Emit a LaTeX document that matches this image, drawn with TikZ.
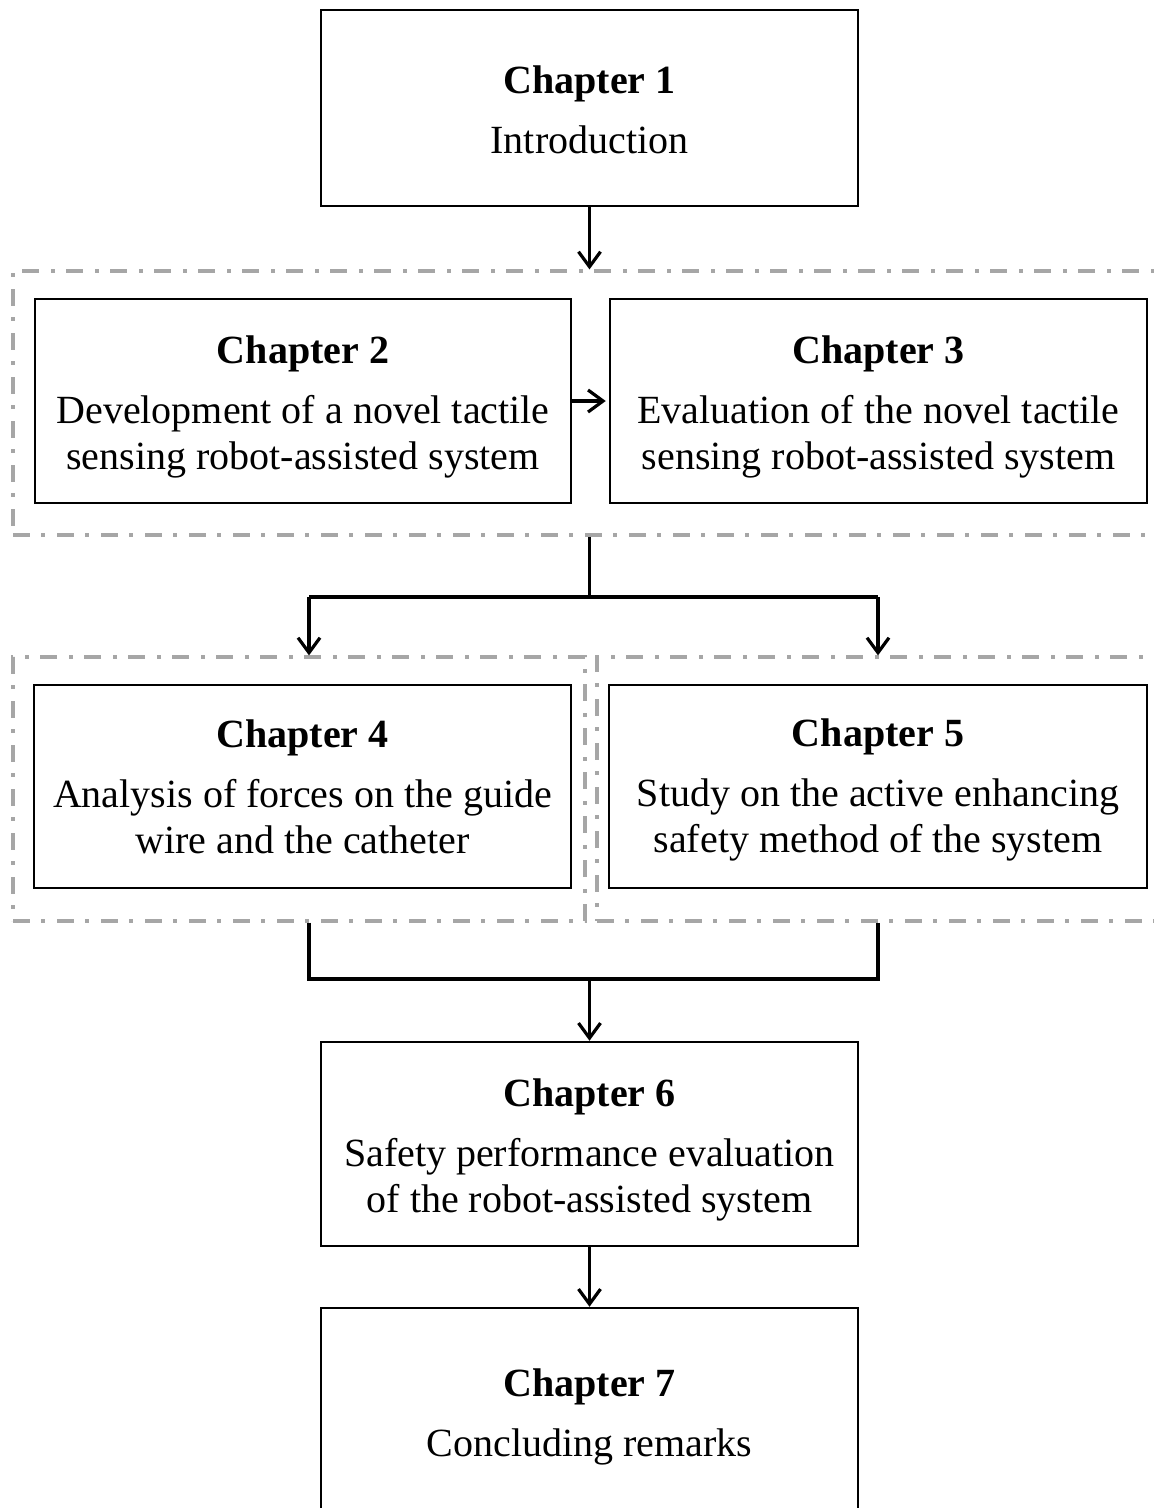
\documentclass[tikz,border=0pt]{standalone}
\usepackage{fontspec}
\setmainfont{Liberation Serif}
\usetikzlibrary{arrows.meta}
\definecolor{grpgray}{HTML}{A6A6A6}
\newcommand\chtop[1]{\rule{0pt}{#1pt}}
\begin{document}
\begin{tikzpicture}[x=1pt,y=-1pt,
  chap/.style={draw=black, line width=2.5pt, inner sep=0pt, align=center,
    font=\fontsize{40}{46}\selectfont},
  grp/.style={draw=grpgray, line width=3.2pt, inner sep=0pt,
    dash pattern=on 17pt off 11pt on 4pt off 12pt},
  conn/.style={draw=black, line width=3.2pt},
  arr/.style={conn, -{Straight Barb[length=15pt,width=22pt]}}]
\useasboundingbox (0,0) rectangle (1154,1508);
\clip (0,0) rectangle (1154,1508);
% group frames
\node[grp, minimum width=1157pt, minimum height=264pt] (d1) at (591.5,403) {};
\node[grp, minimum width=572pt, minimum height=264pt] (d2) at (299,789) {};
\node[grp, minimum width=573pt, minimum height=264pt] (d3) at (883.5,789) {};
% chapter boxes
\node[chap, minimum width=537pt, minimum height=196pt] (box1) at (589.5,108)
  {\chtop{31}{\bfseries Chapter 1}\\[14pt]Introduction};
\node[chap, minimum width=536pt, minimum height=204pt] (box2) at (303,401)
  {\chtop{39}{\bfseries Chapter 2}\\[14pt]Development of a novel tactile\\sensing robot-assisted system};
\node[chap, minimum width=537pt, minimum height=204pt] (box3) at (878.5,401)
  {\chtop{39}{\bfseries Chapter 3}\\[14pt]Evaluation of the novel tactile\\sensing robot-assisted system};
\node[chap, minimum width=537pt, minimum height=203pt] (box4) at (302.5,786.5)
  {\chtop{29}{\bfseries Chapter 4}\\[14pt]Analysis of forces on the guide\\wire and the catheter};
\node[chap, minimum width=538pt, minimum height=203pt] (box5) at (878,786.5)
  {\chtop{35}{\bfseries Chapter 5}\\[14pt]Study on the active enhancing\\safety method of the system};
\node[chap, minimum width=537pt, minimum height=204pt] (box6) at (589.5,1144)
  {\chtop{39}{\bfseries Chapter 6}\\[14pt]Safety performance evaluation\\of the robot-assisted system};
\node[chap, minimum width=537pt, minimum height=210pt] (box7) at (589.5,1413)
  {\chtop{35}{\bfseries Chapter 7}\\[14pt]Concluding remarks};
% connectors
\coordinate (b0) at (589.5,597);
\coordinate (bl) at (309,597);
\coordinate (br) at (878,597);
\coordinate (m0) at (589.5,979);
\coordinate (ml) at (309,979);
\coordinate (mr) at (878,979);
\draw[arr] (box1.south) -- (box1.south |- d1.north);
\draw[arr, shorten >=3pt] (box2.east) -- (box3.west);
\draw[conn] (box1.south |- d1.south) -- (b0);
\draw[conn] (bl) -- (br);
\draw[arr] (bl) -- (bl |- d2.north);
\draw[arr] (br) -- (br |- d3.north);
\draw[conn] (ml |- d2.south) -- (ml) -- (mr) -- (mr |- d3.south);
\draw[arr] (m0) -- (box6.north);
\draw[arr] (box6.south) -- (box7.north);
\end{tikzpicture}
\end{document}
